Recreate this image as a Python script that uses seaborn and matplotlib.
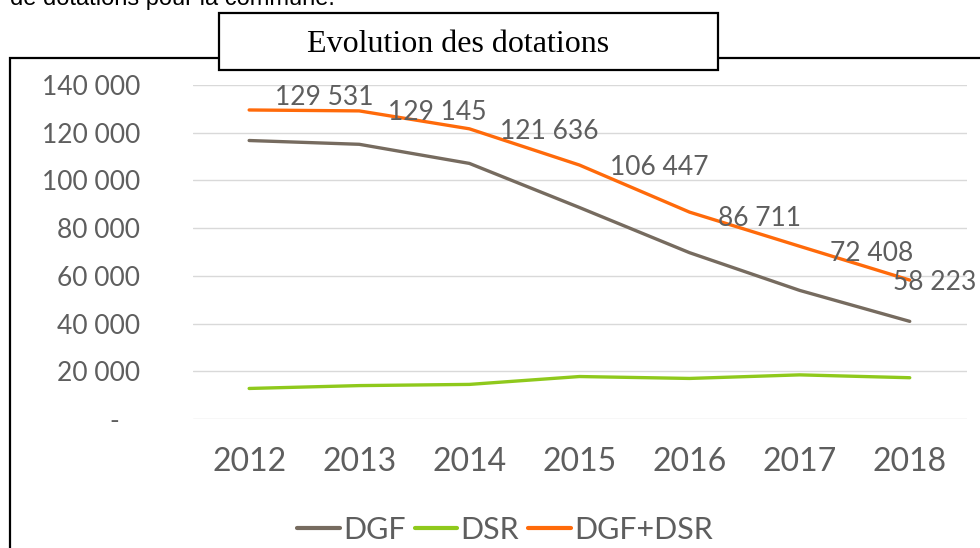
import matplotlib
matplotlib.use("Agg")
import matplotlib.pyplot as plt
from matplotlib.patches import Rectangle
import seaborn as sns
import pandas as pd

# data
years = ["2012", "2013", "2014", "2015", "2016", "2017", "2018"]
total = [129531, 129145, 121636, 106447, 86711, 72408, 58223]
dsr = [12800, 14000, 14500, 17800, 17000, 18500, 17300]
dgf = [t - d for t, d in zip(total, dsr)]
series_names = ["DGF", "DSR", "DGF+DSR"]
yticks = [0, 20000, 40000, 60000, 80000, 100000, 120000, 140000]
ytick_labels = ["-   ", "20 000", "40 000", "60 000", "80 000", "100 000", "120 000", "140 000"]
point_labels = ["129 531", "129 145", "121 636", "106 447", "86 711", "72 408", "58 223"]

# label offsets in pixels (dx, dy)
label_offsets = [(26, 12), (29, -2), (31, -3), (31, -2), (28, -6), (30, -7), (-17, -2)]

df = pd.DataFrame({"year": years * 3,
                   "value": dgf + dsr + total,
                   "serie": [s for s in series_names for _ in years]})

sns.set_style("white")
plt.rcParams["font.family"] = ["Lato", "DejaVu Sans"]
txt_col = "#5E5E5E"
palette = {"DGF": "#766B5F", "DSR": "#8FC91C", "DGF+DSR": "#FF6A0A"}

fig = plt.figure(figsize=(9.8, 5.48), dpi=100)

# outer frame (cut off right/bottom)
fig.patches.append(Rectangle((10 / 980, -0.2), 1.2, 1.2 - 58 / 548, transform=fig.transFigure,
                             fill=False, edgecolor="black", linewidth=1.6, zorder=1))

ax = fig.add_axes([193 / 980, 1 - 419 / 548, 774 / 980, 334 / 548])
sns.lineplot(data=df, x="year", y="value", hue="serie", palette=palette,
             linewidth=2.4, ax=ax, sort=False, legend=True)

ax.set_xlim(-0.51, 6.52)
ax.set_ylim(0, 140000)
ax.set_yticks(yticks)
ax.set_yticklabels(ytick_labels, fontsize=19, color=txt_col)
ax.tick_params(axis="y", length=0, pad=38)
ax.tick_params(axis="x", length=0, pad=20, labelsize=23, labelcolor=txt_col)
ax.grid(axis="y", color="#D9D9D9", linewidth=1)
ax.set_axisbelow(True)
for s in ax.spines.values():
    s.set_visible(False)
ax.set_xlabel("")
ax.set_ylabel("")

for i, (lab, val) in enumerate(zip(point_labels, total)):
    dx, dy = label_offsets[i]
    ax.annotate(lab, (i, val), xytext=(dx, dy), textcoords="offset pixels",
                ha="left", va="center", fontsize=19, color=txt_col, annotation_clip=False)

leg = ax.legend(loc="center", bbox_to_anchor=(505 / 980, 1 - 530 / 548),
                bbox_transform=fig.transFigure, ncol=3, frameon=False,
                fontsize=22, handlelength=1.4, handletextpad=0.1, columnspacing=0.3)
for t in leg.get_texts():
    t.set_color(txt_col)
for h in leg.get_lines():
    h.set_linewidth(3)

# title box
fig.patches.append(Rectangle((219 / 980, 1 - 70 / 548), 499 / 980, 57 / 548, transform=fig.transFigure,
                             facecolor="white", edgecolor="black", linewidth=1.6, zorder=3))
fig.text(458 / 980, 1 - 44 / 548, "Evolution des dotations", ha="center", va="center",
         fontsize=23, family="Liberation Serif", color="black", zorder=4)

# clipped sentence at the top
fig.text(10 / 980, 1 - 5 / 548, "de dotations pour la commune.", ha="left", va="baseline",
         fontsize=17, family="Liberation Sans", color="black")

fig.savefig("out.png", dpi=100)
